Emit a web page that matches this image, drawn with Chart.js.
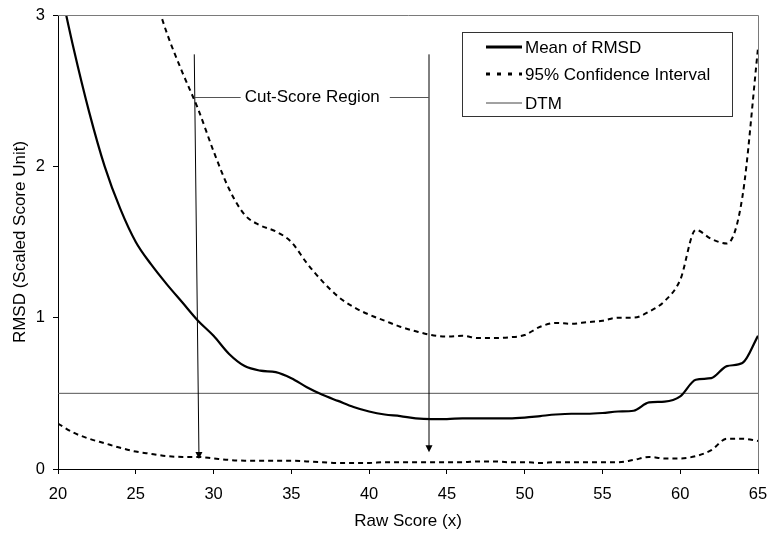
<!DOCTYPE html>
<html>
<head>
<meta charset="utf-8">
<script src="https://cdn.jsdelivr.net/npm/chart.js@4.4.1/dist/chart.umd.min.js"></script>
<style>
  html, body { margin: 0; padding: 0; background: #fff; }
</style>
</head>
<body>
<canvas id="rmsd-chart" width="770" height="534"></canvas>
<script>
// RMSD by raw score

const scores = [20, 21, 22, 23, 24, 25, 26, 27, 28, 29, 30, 31, 32, 33, 34, 35, 36, 37, 38, 39,
                40, 41, 42, 43, 44, 45, 46, 47, 48, 49, 50, 51, 52, 53, 54, 55, 56, 57, 58, 59,
                60, 61, 62, 63, 64, 65];

const meanRmsd = [3.25, 2.78, 2.36, 2.0, 1.72, 1.5, 1.35, 1.22, 1.1, 0.98, 0.88, 0.76, 0.68, 0.65, 0.64,
                  0.6, 0.54, 0.49, 0.45, 0.41, 0.38, 0.36, 0.35, 0.335, 0.33, 0.33, 0.335, 0.335, 0.335,
                  0.335, 0.34, 0.35, 0.36, 0.365, 0.365, 0.37, 0.38, 0.385, 0.44, 0.445, 0.48, 0.59, 0.6,
                  0.68, 0.7, 0.88];

const upperCI = [null, null, null, null, null, null, 3.2, 2.88, 2.62, 2.38, 2.1, 1.85, 1.68, 1.61, 1.57,
                 1.5, 1.36, 1.24, 1.14, 1.07, 1.02, 0.98, 0.94, 0.91, 0.885, 0.875, 0.88, 0.865, 0.865,
                 0.87, 0.885, 0.94, 0.965, 0.96, 0.97, 0.98, 1.0, 1.0, 1.04, 1.11, 1.25, 1.58, 1.52,
                 1.49, 1.8, 2.78];

const lowerCI = [0.3, 0.24, 0.2, 0.17, 0.14, 0.115, 0.1, 0.085, 0.08, 0.08, 0.07, 0.06, 0.055, 0.055,
                 0.055, 0.055, 0.05, 0.045, 0.04, 0.04, 0.04, 0.045, 0.045, 0.045, 0.045, 0.045, 0.045,
                 0.05, 0.05, 0.045, 0.045, 0.04, 0.045, 0.045, 0.045, 0.045, 0.045, 0.06, 0.08, 0.07,
                 0.07, 0.085, 0.125, 0.2, 0.2, 0.185];

const dtmX = [20, 65];
const dtmY = [0.5, 0.5];

const xTicks = [20, 25, 30, 35, 40, 45, 50, 55, 60, 65];
const yTicks = [0, 1, 2, 3];

// cut-score region arrows (data units)
const arrowTopX = [28.76, 43.85];
const arrowTipX = [29.06, 43.85];
const arrowTipY = [0.066, 0.11];
const arrowTopY = 2.74;
const cutLabel = 'Cut-Score Region';
const cutLabelX = 32.0;
const cutLabelY = 2.46;

const legendLabels = ['Mean of RMSD', '95% Confidence Interval', 'DTM'];

const FONT = "'Liberation Sans', Arial, sans-serif";

function pts(xs, ys) {
    return xs.map((v, i) => ({ x: v, y: ys[i] }));
}

// keep the plot box where it is, whatever the tick labels stick out
function noLabelPadding(s) {
    s.paddingLeft = 0;
    s.paddingRight = 0;
    s.paddingTop = 0;
    s.paddingBottom = 0;
}

const overlay = {
    id: 'overlay',
    afterDatasetsDraw(chart) {
        const { ctx, chartArea: a, scales: { x, y } } = chart;
        ctx.save();

        // top / right frame
        ctx.strokeStyle = '#7a7a7a';
        ctx.lineWidth = 1;
        ctx.beginPath();
        ctx.moveTo(a.left, a.top + 0.5);
        ctx.lineTo(a.right + 0.5, a.top + 0.5);
        ctx.lineTo(a.right + 0.5, a.bottom);
        ctx.stroke();

        // arrows
        ctx.strokeStyle = '#000';
        ctx.fillStyle = '#000';
        const ends = [];
        arrowTopX.forEach((tx, i) => {
            const x0 = x.getPixelForValue(tx), x1 = x.getPixelForValue(arrowTipX[i]);
            const y0 = y.getPixelForValue(arrowTopY), y1 = y.getPixelForValue(arrowTipY[i]);
            ends.push([x0, y0, x1, y1]);
            ctx.beginPath();
            ctx.moveTo(x0, y0);
            ctx.lineTo(x1, y1 - 6);
            ctx.stroke();
            ctx.beginPath();
            ctx.moveTo(x1, y1);
            ctx.lineTo(x1 - 3.5, y1 - 7);
            ctx.lineTo(x1 + 3.5, y1 - 7);
            ctx.closePath();
            ctx.fill();
        });

        // label and connectors
        ctx.font = '17px ' + FONT;
        ctx.textBaseline = 'middle';
        ctx.textAlign = 'left';
        const ly = Math.round(y.getPixelForValue(cutLabelY)) + 0.5;
        const lx = x.getPixelForValue(cutLabelX);
        const tw = ctx.measureText(cutLabel).width;
        ctx.fillText(cutLabel, lx, ly);
        const e0 = ends[0];
        const ax = e0[0] + (e0[2] - e0[0]) * (ly - e0[1]) / (e0[3] - e0[1]);
        ctx.strokeStyle = '#555';
        ctx.beginPath();
        ctx.moveTo(ax, ly);
        ctx.lineTo(lx - 4, ly);
        ctx.moveTo(lx + tw + 10, ly);
        ctx.lineTo(ends[1][0], ly);
        ctx.stroke();

        // legend box
        const bx = 462.5, by = 32.5, bw = 270, bh = 84;
        ctx.fillStyle = '#fff';
        ctx.fillRect(bx, by, bw, bh);
        ctx.strokeStyle = '#333';
        ctx.lineWidth = 1;
        ctx.strokeRect(bx, by, bw, bh);
        const rows = [47, 74, 103];
        const styles = [
            { w: 3, dash: [], color: '#000' },
            { w: 3, dash: [4, 7], color: '#000' },
            { w: 1, dash: [], color: '#444' }
        ];
        legendLabels.forEach((lab, i) => {
            const s = styles[i];
            ctx.strokeStyle = s.color;
            ctx.lineWidth = s.w;
            ctx.setLineDash(s.dash);
            ctx.beginPath();
            ctx.moveTo(486, rows[i]);
            ctx.lineTo(522, rows[i]);
            ctx.stroke();
            ctx.setLineDash([]);
            ctx.fillStyle = '#000';
            ctx.fillText(lab, 525, rows[i] + 1);
        });

        ctx.restore();
    }
};

const dashStyle = [5, 4];

new Chart(document.getElementById('rmsd-chart').getContext('2d'), {
    type: 'line',
    data: {
        datasets: [{
            label: 'Mean of RMSD',
            data: pts(scores, meanRmsd),
            borderColor: '#000',
            borderWidth: 2.2,
            pointRadius: 0,
            cubicInterpolationMode: 'monotone'
        }, {
            label: '95% Confidence Interval',
            data: pts(scores, upperCI),
            borderColor: '#000',
            borderWidth: 2,
            borderDash: dashStyle,
            pointRadius: 0,
            cubicInterpolationMode: 'monotone'
        }, {
            label: '95% Confidence Interval (lower)',
            data: pts(scores, lowerCI),
            borderColor: '#000',
            borderWidth: 2,
            borderDash: dashStyle,
            pointRadius: 0,
            cubicInterpolationMode: 'monotone'
        }, {
            label: 'DTM',
            data: pts(dtmX, dtmY),
            borderColor: '#555',
            borderWidth: 1,
            pointRadius: 0
        }]
    },
    options: {
        responsive: false,
        animation: false,
        layout: { padding: { top: 15, right: 12, left: 0, bottom: 0 } },
        plugins: {
            legend: { display: false },
            tooltip: { enabled: false }
        },
        scales: {
            x: {
                type: 'linear',
                min: 20,
                max: 65,
                afterFit: s => { s.height = 65; noLabelPadding(s); },
                afterBuildTicks: s => { s.ticks = xTicks.map(v => ({ value: v })); },
                grid: { drawOnChartArea: false, tickLength: 5, tickColor: '#000' },
                border: { color: '#000', width: 1 },
                ticks: { color: '#000', font: { family: FONT, size: 16.5 }, padding: 11, maxRotation: 0 },
                title: {
                    display: true,
                    text: 'Raw Score (x)',
                    color: '#000',
                    font: { family: FONT, size: 17 },
                    padding: { top: 0, bottom: 2 }
                }
            },
            y: {
                min: 0,
                max: 3,
                afterFit: s => { s.width = 58; noLabelPadding(s); },
                afterBuildTicks: s => { s.ticks = yTicks.map(v => ({ value: v })); },
                grid: { drawOnChartArea: false, tickLength: 5, tickColor: '#000' },
                border: { color: '#000', width: 1 },
                ticks: { color: '#000', font: { family: FONT, size: 16.5 }, padding: 8 },
                title: {
                    display: true,
                    text: 'RMSD (Scaled Score Unit)',
                    color: '#000',
                    font: { family: FONT, size: 17 },
                    padding: { top: 10, bottom: 0 }
                }
            }
        }
    },
    plugins: [overlay]
});
</script>
</body>
</html>
